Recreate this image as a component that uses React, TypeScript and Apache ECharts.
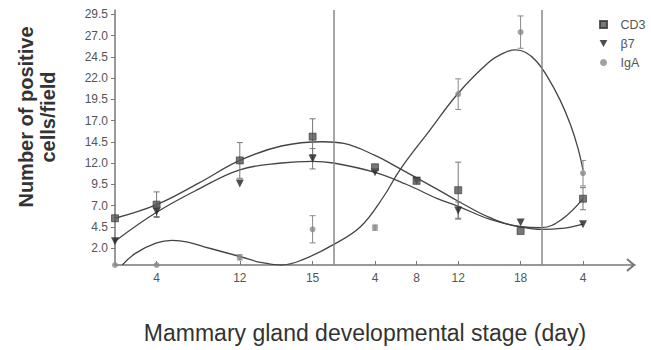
import React, { useEffect, useRef } from "react";
import * as echarts from "echarts";

// x positions in days from start of pregnancy (lactation day d -> 21 + d, involution day d -> 41 + d)
const tickPos = [4, 12, 19, 25, 29, 33, 39, 45];
const tickLabels = ["4", "12", "15", "4", "8", "12", "18", "4"];
const yTicks = [2.0, 4.5, 7.0, 9.5, 12.0, 14.5, 17.0, 19.5, 22.0, 24.5, 27.0, 29.5];
const stageLines = [21, 41];

// measured points
const cd3X = [0, 4, 12, 19, 25, 29, 33, 39, 45];
const cd3Y = [5.5, 7.1, 12.3, 15.1, 11.5, 9.9, 8.8, 4.0, 7.8];
const cd3Err = [0, 1.5, 2.1, 2.1, 0, 0, 3.3, 0, 1.3];

const b7X = [0, 4, 12, 19, 25, 29, 33, 39, 45];
const b7Y = [2.8, 6.3, 9.6, 12.5, 10.9, 9.9, 6.4, 5.0, 4.8];
const b7Err = [0, 0.6, 0, 1.2, 0, 0, 1.0, 0, 0];

const igaX = [0, 4, 12, 19, 25, 33, 39, 45];
const igaY = [0, 0, 0.9, 4.2, 4.4, 20.1, 27.4, 10.8];
const igaErr = [0, 0, 0.3, 1.6, 0.3, 1.8, 1.9, 1.5];

// fitted curves
const cd3CurveX = [0, 4, 8, 12, 16, 20, 22, 25, 27, 31, 33, 36, 39, 41, 43, 45];
const cd3CurveY = [5.5, 7.1, 9.6, 12.3, 14.0, 14.5, 14.3, 12.9, 11.6, 8.9, 7.5, 5.6, 4.5, 4.4, 5.4, 7.8];

const b7CurveX = [0, 4, 8, 12, 16, 19, 21, 25, 28, 31, 33, 36, 39, 41, 43, 45];
const b7CurveY = [2.8, 6.2, 8.9, 11.2, 12.0, 12.2, 12.0, 10.9, 9.5, 7.8, 6.9, 5.4, 4.5, 4.2, 4.3, 4.8];

const igaCurveX = [0.7, 2, 4, 5.5, 7, 9, 12, 14, 16, 18, 21, 23.6, 25.8, 27.4, 30.3, 33, 36, 37.5, 38.5, 39.5, 40.5, 41.5, 42.8, 43.8, 44.5, 45];
const igaCurveY = [0, 1.4, 2.6, 2.9, 2.7, 2.0, 1.0, 0.3, 0, 0.6, 2.4, 4.5, 8.0, 11.2, 15.9, 20.2, 23.9, 25.0, 25.3, 25.0, 24.0, 22.3, 19.4, 16.5, 13.8, 11.2];

const zip = (xs: number[], ys: number[]) => xs.map((x, i) => [x, ys[i]]);
const errData = (xs: number[], ys: number[], es: number[]) =>
  xs.map((x, i) => [x, ys[i] - es[i], ys[i] + es[i]]).filter((_, i) => es[i] > 0);

const FONT = "'Liberation Sans', Arial, sans-serif";
const downTri = "path://M0,0L10,0L5,9Z";
const square = "path://M0,0L10,0L10,10L0,10Z";

function errorSeries(data: number[][], color: string) {
  return {
    type: "custom",
    data,
    z: 3,
    renderItem: (_p: any, api: any) => {
      const x = api.value(0);
      const top = api.coord([x, api.value(2)]);
      const bot = api.coord([x, api.value(1)]);
      const cap = 3;
      const style = { stroke: color, lineWidth: 1 };
      return {
        type: "group",
        children: [
          { type: "line", shape: { x1: top[0], y1: top[1], x2: bot[0], y2: bot[1] }, style },
          { type: "line", shape: { x1: top[0] - cap, y1: top[1], x2: top[0] + cap, y2: top[1] }, style },
          { type: "line", shape: { x1: bot[0] - cap, y1: bot[1], x2: bot[0] + cap, y2: bot[1] }, style },
        ],
      };
    },
  };
}

function curve(xs: number[], ys: number[]) {
  return {
    type: "line",
    data: zip(xs, ys),
    smooth: 0.4,
    symbol: "none",
    lineStyle: { color: "#444", width: 1.3 },
    z: 2,
    silent: true,
  };
}

export default function App() {
  const ref = useRef<HTMLDivElement>(null);
  useEffect(() => {
    if (!ref.current) return;
    const chart = echarts.init(ref.current, undefined, { renderer: "svg" });
    chart.setOption({
      animation: false,
      backgroundColor: "#ffffff",
      grid: { left: 115, right: 16, top: 10, bottom: 85 },
      legend: {
        orient: "vertical",
        left: 594,
        top: 13,
        itemWidth: 24,
        itemHeight: 7,
        itemGap: 6,
        symbolKeepAspect: true,
        data: [
          { name: "CD3", icon: square },
          { name: "β7", icon: downTri },
          { name: "IgA", icon: "circle" },
        ],
        textStyle: { fontSize: 12.5, color: "#555", fontFamily: FONT, lineHeight: 13 },
      },
      xAxis: {
        type: "value",
        min: 0,
        max: 50,
        splitLine: { show: false },
        axisLine: { lineStyle: { color: "#777", width: 1.5 } },
        axisTick: { customValues: tickPos, inside: true, length: 4, lineStyle: { color: "#777" } },
        axisLabel: {
          customValues: tickPos,
          margin: 7,
          fontSize: 12,
          color: "#555",
          fontFamily: FONT,
          formatter: (v: number) => {
            const i = tickPos.indexOf(v);
            return i >= 0 ? tickLabels[i] : "";
          },
        },
      },
      yAxis: {
        type: "value",
        min: 0,
        max: 30,
        splitLine: { show: false },
        axisLine: { show: true, lineStyle: { color: "#777", width: 1.5 } },
        axisTick: { show: true, customValues: yTicks, length: 4, lineStyle: { color: "#777" } },
        axisLabel: {
          customValues: yTicks,
          margin: 7,
          fontSize: 12,
          color: "#555",
          fontFamily: FONT,
          formatter: (v: number) => v.toFixed(1),
        },
      },
      graphic: [
        {
          type: "text",
          x: 37,
          y: 117,
          rotation: Math.PI / 2,
          style: {
            text: "Number of positive\ncells/field",
            font: `bold 20px ${FONT}`,
            fill: "#333",
            textAlign: "center",
            textVerticalAlign: "middle",
            lineHeight: 22,
          },
        },
        {
          type: "text",
          x: 365,
          y: 333,
          style: {
            text: "Mammary gland developmental stage (day)",
            font: `23px ${FONT}`,
            fill: "#333",
            textAlign: "center",
            textVerticalAlign: "middle",
          },
        },
        {
          type: "polyline",
          shape: { points: [[627, 259], [634, 265], [627, 271]] },
          style: { stroke: "#777", lineWidth: 2, fill: "none" },
        },
      ],
      series: [
        curve(cd3CurveX, cd3CurveY),
        curve(b7CurveX, b7CurveY),
        {
          ...curve(igaCurveX, igaCurveY),
          markLine: {
            silent: true,
            symbol: "none",
            label: { show: false },
            lineStyle: { color: "#888", width: 1.5, type: "solid" },
            data: stageLines.map((v) => ({ xAxis: v })),
          },
        },
        errorSeries(errData(cd3X, cd3Y, cd3Err), "#777"),
        errorSeries(errData(b7X, b7Y, b7Err), "#777"),
        errorSeries(errData(igaX, igaY, igaErr), "#888"),
        {
          name: "IgA",
          type: "scatter",
          data: zip(igaX, igaY),
          symbol: "circle",
          symbolSize: 6,
          clip: false,
          itemStyle: { color: "#8a8a8a" },
          z: 4,
        },
        {
          name: "β7",
          type: "scatter",
          data: zip(b7X, b7Y),
          symbol: downTri,
          symbolSize: 8,
          clip: false,
          itemStyle: { color: "#222" },
          z: 5,
        },
        {
          name: "CD3",
          type: "scatter",
          data: zip(cd3X, cd3Y),
          symbol: square,
          symbolSize: 7,
          clip: false,
          itemStyle: { color: "#555", borderColor: "#333", borderWidth: 0.8 },
          z: 6,
        },
      ],
    });
    return () => chart.dispose();
  }, []);
  return (
    <div
      ref={ref}
      style={{ position: "absolute", left: 0, top: 0, width: 651, height: 350 }}
    />
  );
}
